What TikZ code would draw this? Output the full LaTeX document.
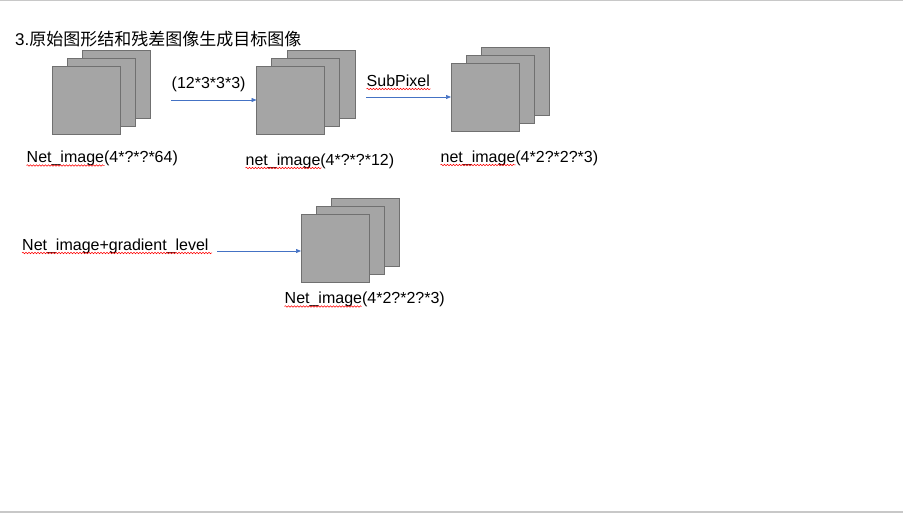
\documentclass[tikz,border=0pt]{standalone}
\usepackage{fontspec}
\setmainfont{Liberation Sans}
\newfontfamily\cjkfont{Noto Sans CJK SC}
\usetikzlibrary{arrows.meta, calc, positioning, decorations.pathmorphing}

\definecolor{layerfill}{RGB}{165,165,165}
\definecolor{layerline}{RGB}{112,112,112}
\definecolor{flowblue}{RGB}{68,114,196}
\definecolor{pagerule}{RGB}{200,200,200}

\begin{document}
\begin{tikzpicture}[x=1pt, y=-1pt,
  layer/.style={draw=layerline, fill=layerfill, line width=0.8pt, minimum size=68pt, inner sep=0pt, outer sep=0pt},
  lbl/.style={anchor=base west, inner sep=0pt, font=\fontsize{16}{19}\selectfont},
  flow/.style={draw=flowblue, line width=0.7pt, -{Triangle[length=5pt,width=4pt]}},
  typo/.style={draw=red, line width=0.5pt, decorate, decoration={snake, amplitude=0.8pt, segment length=3pt}}]
\useasboundingbox (0,0) rectangle (903,513);

% Page rules
\draw[pagerule, line width=1.2pt] (0,0.8) -- (903,0.8);
\draw[pagerule, line width=1.5pt] (0,512) -- (903,512);

% Title
\node[lbl, font=\fontsize{17}{20}\selectfont] (title) at (15,46) {3.\cjkfont 原始图形结和残差图像生成目标图像};

% Feature map stacks (back, middle, front)
\foreach \n/\x/\y in {s1/86/100, s2/290.5/100, s3/485/97, s4/335/248} {
  \node[layer] (\n-back) at (\x+30.6,\y-15.4) {};
  \node[layer] (\n-mid) at (\x+15.3,\y-7.7) {};
  \node[layer] (\n-front) at (\x,\y) {};
}

% Labels under the stacks
\node[lbl] (l1) at (26.5,163) {Net\_image(4*?*?*64)};
\node[lbl] (l2) at (245.5,165.5) {net\_image(4*?*?*12)};
\node[lbl] (l3) at (440.5,162.5) {net\_image(4*2?*2?*3)};
\node[lbl] (l4) at (284.5,304) {Net\_image(4*2?*2?*3)};

% Labels over the arrows
\node[lbl] (conv) at (171.5,88.5) {(12*3*3*3)};
\node[lbl] (sub) at (366.5,86.5) {SubPixel};
\node[lbl] (src) at (22,250.5) {Net\_image+gradient\_level};

% Arrows
\coordinate (a1) at (171,100);
\draw[flow] (a1) -- (s2-front.west);
\coordinate (a2) at (366,97);
\draw[flow] (a2) -- (s3-front.west);
\coordinate (a3) at (217,251);
\draw[flow] (a3) -- (a3 -| s4-front.west);

% Spell-check marks
\draw[typo] ($(l1.base west)+(0,2.5)$) -- ++(78,0);
\draw[typo] ($(l2.base west)+(0,2.5)$) -- ++(76,0);
\draw[typo] ($(l3.base west)+(0,2.5)$) -- ++(75,0);
\draw[typo] ($(l4.base west)+(0,2.5)$) -- ++(77,0);
\draw[typo] ($(sub.base west)+(0,2.5)$) -- ++(64,0);
\draw[typo] ($(src.base west)+(0,2.5)$) -- ++(190,0);
\end{tikzpicture}
\end{document}
